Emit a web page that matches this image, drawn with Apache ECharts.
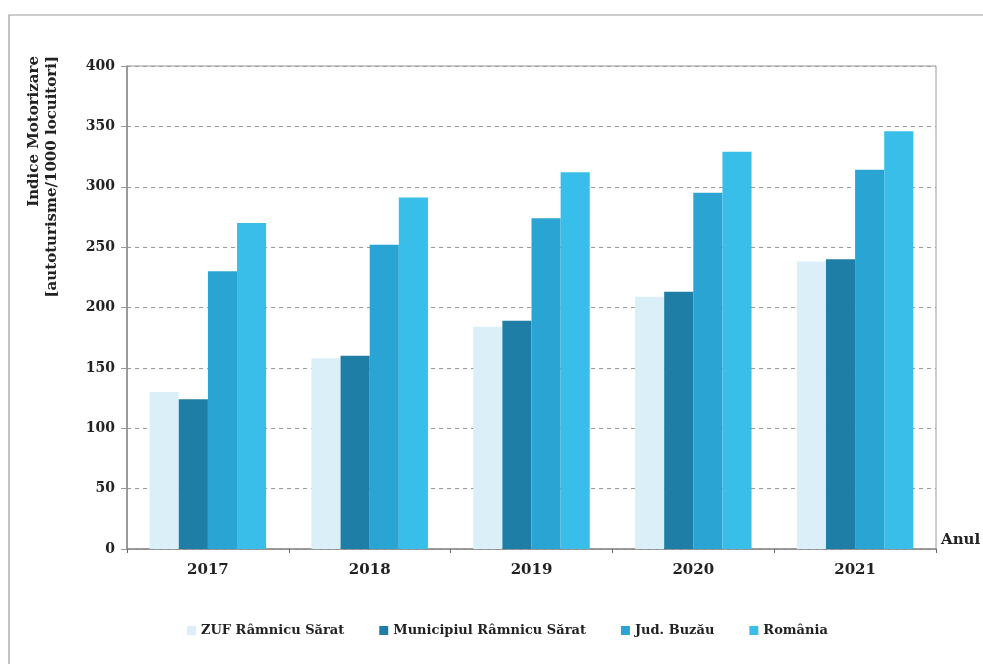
<!DOCTYPE html>
<html>
<head>
<meta charset="utf-8">
<title>Indice Motorizare</title>
<script src="https://cdn.jsdelivr.net/npm/echarts@6/dist/echarts.min.js"></script>
<style>
  html, body { margin: 0; padding: 0; background: #ffffff; }
  #chart { width: 983px; height: 664px; }
</style>
</head>
<body>
<div id="chart"></div>
<script>
// Motorisation index (cars per 1000 inhabitants), 2017-2021
const years = ['2017', '2018', '2019', '2020', '2021'];
const zufRamnicuSarat = [130, 158, 184, 209, 238];
const municipiulRamnicuSarat = [124, 160, 189, 213, 240];
const judBuzau = [230, 252, 274, 295, 314];
const romania = [270, 291, 312, 329, 346];
const yTicks = { min: 0, max: 400, interval: 50 };

const seriesNames = ['ZUF Râmnicu Sărat', 'Municipiul Râmnicu Sărat', 'Jud. Buzău', 'România'];
const seriesColors = ['#dbeff9', '#1e7ea5', '#2aa4d3', '#38bee9'];
const seriesData = [zufRamnicuSarat, municipiulRamnicuSarat, judBuzau, romania];

const font = '"DejaVu Serif", serif';

const chart = echarts.init(document.getElementById('chart'), null, { renderer: 'canvas' });

chart.setOption({
  animation: false,
  backgroundColor: '#ffffff',
  textStyle: { fontFamily: font },
  grid: {
    left: 127, right: 47, top: 66, bottom: 115,
    show: true, borderColor: '#9a9a9a', borderWidth: 1
  },
  legend: {
    top: 619,
    left: 182,
    itemWidth: 9, itemHeight: 9, itemGap: 35,
    icon: 'rect',
    textStyle: { fontFamily: font, fontWeight: 'bold', fontSize: 13, color: '#222' },
    data: seriesNames
  },
  xAxis: {
    type: 'category',
    data: years,
    axisLine: { lineStyle: { color: '#8a8a8a', width: 1.5 } },
    axisTick: { show: true, length: 4, lineStyle: { color: '#666' } },
    axisLabel: { fontFamily: font, fontWeight: 'bold', fontSize: 15, color: '#222', margin: 14 }
  },
  yAxis: {
    type: 'value',
    min: yTicks.min, max: yTicks.max, interval: yTicks.interval,
    axisLine: { show: true, lineStyle: { color: '#8a8a8a', width: 1.5 } },
    axisTick: { show: true, length: 6, lineStyle: { color: '#999' } },
    axisLabel: { fontFamily: font, fontWeight: 'bold', fontSize: 14, color: '#222', margin: 12 },
    splitLine: { show: true, lineStyle: { color: '#9a9a9a', type: [4, 4], width: 1 } }
  },
  series: seriesNames.map((name, i) => ({
    name,
    type: 'bar',
    data: seriesData[i],
    barGap: '0%',
    barCategoryGap: '28%',
    itemStyle: { color: seriesColors[i] }
  })),
  graphic: [
    {
      type: 'rect',
      shape: { x: 9, y: 15, width: 990, height: 660 },
      style: { fill: 'none', stroke: '#9a9a9a', lineWidth: 1.2 },
      silent: true
    },
    {
      type: 'text',
      x: 43, y: 56,
      rotation: Math.PI / 2,
      style: {
        text: 'Indice Motorizare\n[autoturisme/1000 locuitori]',
        fontFamily: font, fontWeight: 'bold', fontSize: 15,
        lineHeight: 18, fill: '#222',
        align: 'right', verticalAlign: 'middle'
      }
    },
    {
      type: 'text',
      x: 941, y: 540,
      style: {
        text: 'Anul',
        fontFamily: font, fontWeight: 'bold', fontSize: 15, fill: '#222',
        align: 'left', verticalAlign: 'middle'
      }
    }
  ]
});
</script>
</body>
</html>
